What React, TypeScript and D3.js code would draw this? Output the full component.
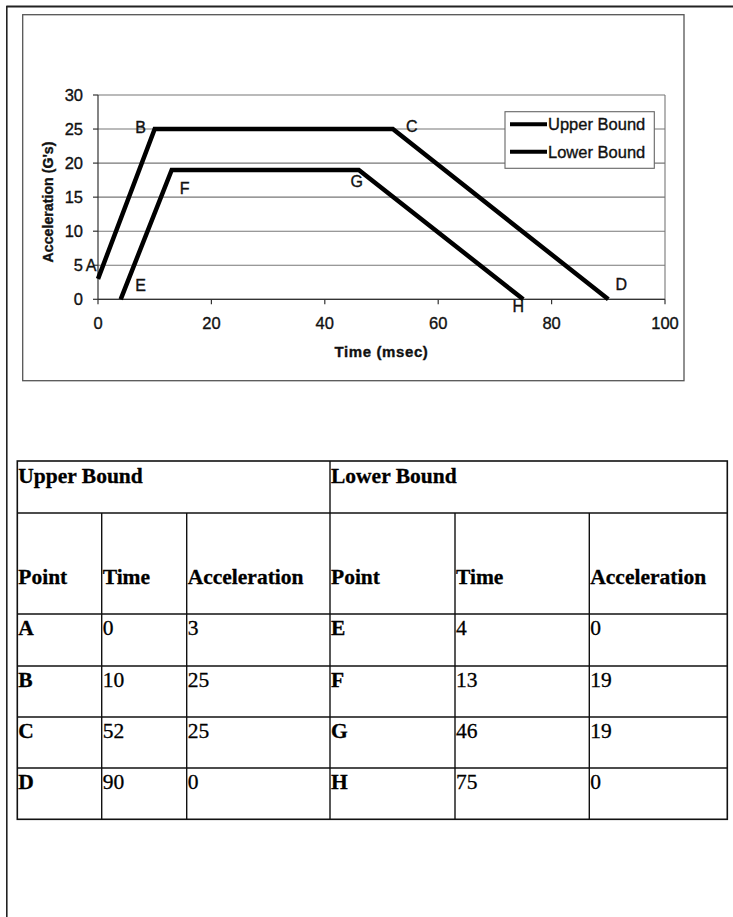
import React from "react";
import * as d3 from "d3";

// ---- data ----
const upperPoints = ["A", "B", "C", "D"];
const upperTime = [0, 10, 52, 90];
const upperAccel = [3, 25, 25, 0];
const lowerPoints = ["E", "F", "G", "H"];
const lowerTime = [4, 13, 46, 75];
const lowerAccel = [0, 19, 19, 0];
const seriesNames = ["Upper Bound", "Lower Bound"];
const xTicks = [0, 20, 40, 60, 80, 100];
const yTicks = [0, 5, 10, 15, 20, 25, 30];
const tableHeaders = ["Point", "Time", "Acceleration"];

// label placement (pixel offsets of label centre from its point)
const upperLabelOffsets: [number, number][] = [[-7, -14], [-14, -2], [19, -3], [13, -15]];
const lowerLabelOffsets: [number, number][] = [[20, -14], [13, 18], [-2, 11], [-5, 7]];

const W = 733;
const H = 917;
const plot = { left: 98, right: 665, top: 95, bottom: 299.3 };

export default function App() {
  const x = d3.scaleLinear().domain([0, 100]).range([plot.left, plot.right]);
  const y = d3.scaleLinear().domain([0, 30]).range([plot.bottom, plot.top]);
  const line = d3
    .line<[number, number]>()
    .x((d) => x(d[0]))
    .y((d) => y(d[1]));

  const upper: [number, number][] = upperTime.map((t, i) => [t, upperAccel[i]]);
  const lower: [number, number][] = lowerTime.map((t, i) => [t, lowerAccel[i]]);

  const sans = "'Liberation Sans', Arial, sans-serif";
  const serif = "'Liberation Serif', 'Times New Roman', serif";
  const ink = { fill: "#111", stroke: "#111", strokeWidth: 0.35 };

  // table geometry
  const colX = [17.3, 101.7, 186.7, 330, 455, 589.3, 727.3];
  const rowY = [461, 513, 614, 666, 717, 768, 819.3];

  const bodyRows = upperPoints.map((p, i) => [
    { t: p, bold: true },
    { t: String(upperTime[i]), bold: false },
    { t: String(upperAccel[i]), bold: false },
    { t: lowerPoints[i], bold: true },
    { t: String(lowerTime[i]), bold: false },
    { t: String(lowerAccel[i]), bold: false },
  ]);

  return (
    <svg
      width={W}
      height={H}
      style={{ position: "absolute", left: 0, top: 0, background: "#fff" }}
    >
      <rect x={0} y={0} width={W} height={H} fill="#fff" />
      {/* page frame */}
      <line x1={6.3} y1={6.5} x2={W} y2={6.5} stroke="#222" strokeWidth={2} />
      <line x1={6.8} y1={6} x2={6.8} y2={H} stroke="#222" strokeWidth={1.6} />

      {/* chart frame */}
      <rect x={22.7} y={14.7} width={684 - 22.7} height={380.7 - 14.7} fill="none" stroke="#555" strokeWidth={1.3} />

      {/* gridlines */}
      {yTicks.map((t) => (
        <line key={"g" + t} x1={plot.left} x2={plot.right} y1={y(t)} y2={y(t)} stroke="#777" strokeWidth={1.1} />
      ))}
      <line x1={plot.right} x2={plot.right} y1={plot.top} y2={plot.bottom} stroke="#777" strokeWidth={1.1} />

      {/* axes */}
      <line x1={plot.left} x2={plot.left} y1={plot.top} y2={plot.bottom} stroke="#333" strokeWidth={1.2} />
      <line x1={plot.left} x2={plot.right} y1={plot.bottom} y2={plot.bottom} stroke="#333" strokeWidth={1.2} />
      {yTicks.map((t) => (
        <g key={"yt" + t}>
          <line x1={plot.left - 5} x2={plot.left} y1={y(t)} y2={y(t)} stroke="#333" strokeWidth={1.2} />
          <text x={plot.left - 15} y={y(t) + 6} textAnchor="end" fontFamily={sans} fontSize={16.5} {...ink}>
            {t}
          </text>
        </g>
      ))}
      {xTicks.map((t) => (
        <g key={"xt" + t}>
          <line x1={x(t)} x2={x(t)} y1={plot.bottom} y2={plot.bottom + 5} stroke="#333" strokeWidth={1.2} />
          <text x={x(t)} y={329} textAnchor="middle" fontFamily={sans} fontSize={16.5} {...ink}>
            {t}
          </text>
        </g>
      ))}

      {/* axis titles */}
      <text
        transform="translate(53,202) rotate(-90)"
        textAnchor="middle"
        fontFamily={sans}
        fontWeight="bold"
        fontSize={14.2}
        {...ink}
      >
        Acceleration (G's)
      </text>
      <text x={381.5} y={357} textAnchor="middle" fontFamily={sans} fontWeight="bold" fontSize={15} letterSpacing={0.6} {...ink}>
        Time (msec)
      </text>

      {/* series */}
      <path d={line(upper) || ""} fill="none" stroke="#000" strokeWidth={4.5} strokeLinejoin="miter" />
      <path d={line(lower) || ""} fill="none" stroke="#000" strokeWidth={4.5} strokeLinejoin="miter" />

      {/* point labels */}
      {upper.map((p, i) => (
        <text
          key={"ul" + i}
          x={x(p[0]) + upperLabelOffsets[i][0]}
          y={y(p[1]) + upperLabelOffsets[i][1] + 6}
          textAnchor="middle"
          fontFamily={sans}
          fontSize={16}
          {...ink}
        >
          {upperPoints[i]}
        </text>
      ))}
      {lower.map((p, i) => (
        <text
          key={"ll" + i}
          x={x(p[0]) + lowerLabelOffsets[i][0]}
          y={y(p[1]) + lowerLabelOffsets[i][1] + 6}
          textAnchor="middle"
          fontFamily={sans}
          fontSize={16}
          {...ink}
        >
          {lowerPoints[i]}
        </text>
      ))}

      {/* legend */}
      <rect x={505} y={111.7} width={149.3} height={56.6} fill="#fff" stroke="#666" strokeWidth={1.1} />
      {seriesNames.map((s, i) => {
        const ly = 124.3 + i * 27.4;
        return (
          <g key={s}>
            <line x1={510} x2={547} y1={ly} y2={ly} stroke="#000" strokeWidth={4} />
            <text x={548} y={ly + 6} fontFamily={sans} fontSize={16.5} {...ink}>
              {s}
            </text>
          </g>
        );
      })}

      {/* table */}
      <g fontFamily={serif} fill="#000">
        <rect x={colX[0]} y={rowY[0]} width={colX[6] - colX[0]} height={rowY[6] - rowY[0]} fill="none" stroke="#111" strokeWidth={1.6} />
        {rowY.slice(1, 6).map((ry) => (
          <line key={"r" + ry} x1={colX[0]} x2={colX[6]} y1={ry} y2={ry} stroke="#111" strokeWidth={1.4} />
        ))}
        <line x1={colX[3]} x2={colX[3]} y1={rowY[0]} y2={rowY[6]} stroke="#111" strokeWidth={1.4} />
        {[1, 2, 4, 5].map((c) => (
          <line key={"c" + c} x1={colX[c]} x2={colX[c]} y1={rowY[1]} y2={rowY[6]} stroke="#111" strokeWidth={1.4} />
        ))}
        {seriesNames.map((s, i) => (
          <text key={"h" + s} x={colX[i * 3] + 1} y={rowY[0] + 22} fontWeight="bold" fontSize={21.5} stroke="#000" strokeWidth={0.3}>
            {s}
          </text>
        ))}
        {[0, 1].map((g) =>
          tableHeaders.map((h, j) => (
            <text key={"hh" + g + j} x={colX[g * 3 + j] + 1} y={584} fontWeight="bold" fontSize={21.5} stroke="#000" strokeWidth={0.3}>
              {h}
            </text>
          ))
        )}
        {bodyRows.map((row, r) =>
          row.map((cell, c) => (
            <text
              key={"b" + r + c}
              x={colX[c] + 1}
              y={rowY[r + 2] + 21}
              fontWeight={cell.bold ? "bold" : "normal"}
              fontSize={21.5}
              stroke="#000"
              strokeWidth={0.3}
            >
              {cell.t}
            </text>
          ))
        )}
      </g>
    </svg>
  );
}
